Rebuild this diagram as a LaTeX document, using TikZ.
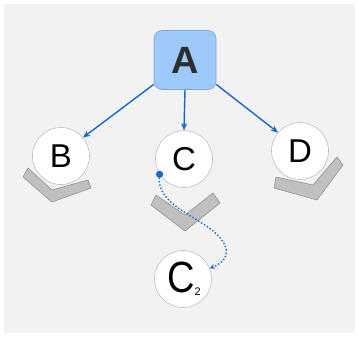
\documentclass[tikz,border=0pt]{standalone}
\usepackage{fontspec}
\setmainfont{Liberation Sans}
\usetikzlibrary{arrows.meta,calc}
\definecolor{bgray}{RGB}{242,242,242}
\definecolor{boxblue}{RGB}{157,202,250}
\definecolor{boxedge}{RGB}{125,165,215}
\definecolor{arrblue}{RGB}{25,102,204}
\definecolor{chevfill}{RGB}{192,192,192}
\definecolor{chevedge}{RGB}{145,145,145}
\definecolor{circedge}{RGB}{190,190,190}
\definecolor{txtdark}{RGB}{45,45,45}
\tikzset{
  circnode/.style={circle, draw=circedge, line width=0.6pt, fill=white, minimum size=57pt, inner sep=0pt, font=\fontsize{33}{33}\selectfont},
  boxnode/.style={rectangle, rounded corners=8pt, draw=boxedge, line width=0.6pt, fill=boxblue, minimum width=62pt, minimum height=59pt, inner sep=0pt, text=txtdark, font=\fontsize{38}{38}\selectfont\bfseries},
  chev/.style={fill=chevfill, draw=chevedge, line width=0.6pt},
  link/.style={draw=arrblue, line width=1.4pt, -{Stealth[length=7pt,width=6pt]}},
  dotlink/.style={draw=arrblue, line width=1.4pt, dotted, -{Stealth[length=5pt,width=5pt,open]}}
}
\begin{document}
\begin{tikzpicture}[x=1pt,y=-1pt]
\useasboundingbox (0,0) rectangle (359,338);
\fill[white] (0,0) rectangle (359,338);
\fill[bgray] (4,4) rectangle (355,333);
% chevrons
\draw[chev] (23,177) -- (52,202) -- (91,188) -- (88,180) -- (52,190) -- (28,168) -- cycle;
\draw[chev] (151,205) -- (185,231) -- (220,203) -- (213,193) -- (185,215) -- (156,195) -- cycle;
\draw[chev] (274,188) -- (317,200) -- (343,165) -- (337,157) -- (313,185) -- (276,177) -- cycle;
% nodes
\node[boxnode] (A) at (185,60) {A};
\node[circnode] (B) at (61,156) {B};
\node[circnode] (C) at (184,159) {C};
\node[circnode] (D) at (300,151) {D};
\node[circnode] (C2) at (183,279) {\hspace*{2pt}\scalebox{1}[1.15]{\fontsize{38}{38}\selectfont C}\raisebox{-3pt}{\fontsize{11}{11}\selectfont 2}};
% arrows
\coordinate (Abl) at ($(A.south west)!0.09!(A.north west)$);
\coordinate (Abr) at ($(A.south east)!0.09!(A.north east)$);
\draw[link] (Abl) -- (B.40);
\draw[link] (A.south) -- (C.north);
\draw[link] (Abr) -- (D.140);
% dotted connector
\coordinate (Cs) at (C.212);
\fill[arrblue] (Cs) circle (3.6pt);
\draw[dotlink] (Cs) .. controls (156,197) and (178,208) .. (200,222) .. controls (228,238) and (236,258) .. (C2.22);
\end{tikzpicture}
\end{document}
